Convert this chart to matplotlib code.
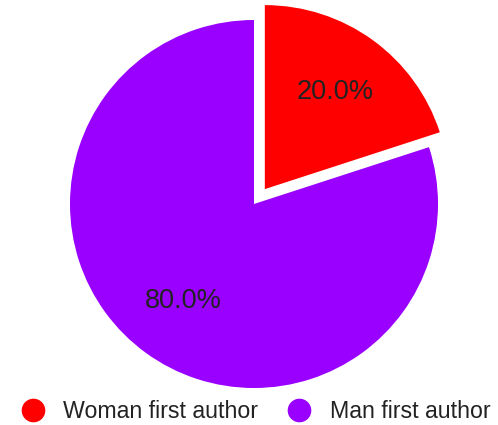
import matplotlib
matplotlib.use("Agg")
import matplotlib.pyplot as plt
from matplotlib.lines import Line2D

labels = ["Woman first author", "Man first author"]
values = [20.0, 80.0]
colors = ["#FF0000", "#9900FF"]
explode = [0.1, 0.0]

plt.rcParams['font.family'] = ['Liberation Sans', 'DejaVu Sans']

fig = plt.figure(figsize=(4.98, 4.25), dpi=100)
W, H = 498, 425
cx, cy, r = 254, 204, 184
ax = fig.add_axes([(cx - r) / W, (H - cy - r) / H, 2 * r / W, 2 * r / H])
wedges, texts, autotexts = ax.pie(values, colors=colors, explode=explode,
                                  startangle=90, counterclock=False,
                                  autopct='%1.1f%%', pctdistance=0.65,
                                  radius=1.0, wedgeprops=dict(linewidth=0))
for w in wedges:
    w.set_clip_on(False)
for t in autotexts:
    t.set_fontsize(19.5)
    t.set_color('#222222')
ax.set_xlim(-1, 1)
ax.set_ylim(-1, 1)
ax.set_aspect('auto')
ax.axis('off')

handles = [Line2D([], [], marker='o', linestyle='none', markersize=16,
                  markerfacecolor=c, markeredgecolor=c) for c in colors]
fig.legend(handles, labels, loc='center', bbox_to_anchor=(0.512, 1 - 412 / H),
           ncol=2, frameon=False, fontsize=16.7, handletextpad=0.75,
           columnspacing=1.25, handlelength=1.1, labelcolor='#222222')

fig.savefig("out.png", dpi=100)
